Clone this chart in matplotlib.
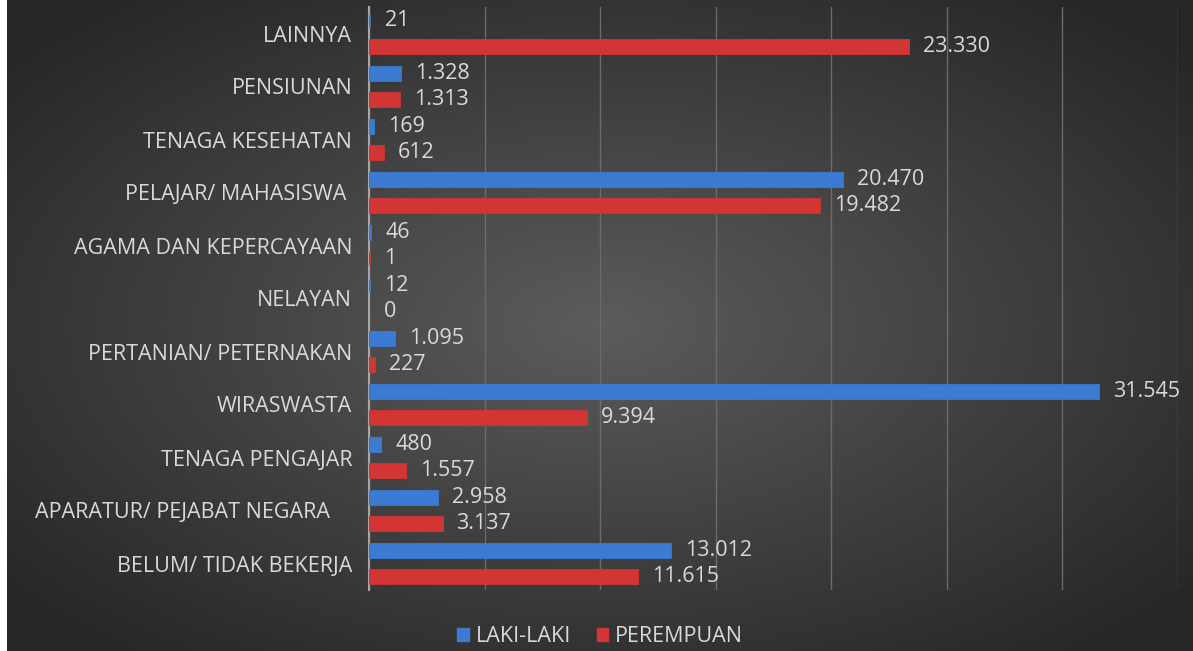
import numpy as np
import matplotlib
matplotlib.use('Agg')
import matplotlib.pyplot as plt
from matplotlib.patches import Patch

# ── data ─────────────────────────────────────────────────────────────────────

categories = ['BELUM/ TIDAK BEKERJA', 'APARATUR/ PEJABAT NEGARA    ',
              'TENAGA PENGAJAR', 'WIRASWASTA', 'PERTANIAN/ PETERNAKAN',
              'NELAYAN', 'AGAMA DAN KEPERCAYAAN', 'PELAJAR/ MAHASISWA ',
              'TENAGA KESEHATAN', 'PENSIUNAN', 'LAINNYA']
laki = [13012, 2958, 480, 31545, 1095, 12, 46, 20470, 169, 1328, 21]
perempuan = [11615, 3137, 1557, 9394, 227, 0, 1, 19482, 612, 1313, 23330]

BLUE = '#3b7bd4'
RED = '#d33535'
TXT = '#d9d9d9'

plt.rcParams['font.family'] = ['Open Sans', 'DejaVu Sans']

W, H = 1193, 651
fig = plt.figure(figsize=(W / 100, H / 100), dpi=100)
fig.patch.set_facecolor('white')

# ── background: radial grey gradient ────────────────────────────────────────
bg = fig.add_axes([7 / W, 0, 1 - 7 / W, 1], zorder=0)
yy, xx = np.mgrid[0:1:300j, 0:1:600j]
r = np.sqrt(((xx - 0.5) / 0.75) ** 2 + ((yy - 0.5) / 0.75) ** 2)
shade = np.clip(0.36 - 0.24 * r, 0.15, 0.36)
bg.imshow(np.dstack([shade] * 3), aspect='auto', extent=[0, 1, 0, 1])
bg.axis('off')

# ── bars ────────────────────────────────────────────────────────────────────
ax = fig.add_axes([369 / W, 1 - 590 / H, (1178 - 369) / W, (590 - 7) / H], zorder=1)
ax.patch.set_alpha(0)

y = np.arange(len(categories))
off, h = 0.245, 0.24
# small edge so tiny non-zero values still show a sliver, as in Excel
ax.barh(y + off, laki, height=h, color=BLUE, edgecolor=BLUE,
        linewidth=[2 if v > 0 else 0 for v in laki], zorder=3)
ax.barh(y - off, perempuan, height=h, color=RED, edgecolor=RED,
        linewidth=[2 if v > 0 else 0 for v in perempuan], zorder=3)

def fmt(v):
    return f'{v:,}'.replace(',', '.')

for yi, v in zip(y, laki):
    ax.text(v + 650, yi + off, fmt(v), va='center', ha='left', color=TXT, fontsize=15.5)
for yi, v in zip(y, perempuan):
    ax.text(v + 650, yi - off, fmt(v), va='center', ha='left', color=TXT, fontsize=15.5)

ax.set_xlim(0, 35000)
ax.set_ylim(-0.5, len(categories) - 0.5)
ax.set_xticks(np.arange(0, 35001, 5000))
ax.set_xticklabels([])
ax.tick_params(axis='x', length=0)
ax.grid(axis='x', color='#6b6b6b', linewidth=1, zorder=0)
ax.set_yticks(y)
ax.set_yticklabels(categories, color=TXT, fontsize=15.5)
ax.tick_params(axis='y', length=0, pad=12)
for s in ['top', 'right', 'bottom']:
    ax.spines[s].set_visible(False)
ax.spines['left'].set_color('#a6a6a6')
ax.spines['left'].set_linewidth(1.5)

handles = [Patch(color=BLUE, label='LAKI-LAKI'), Patch(color=RED, label='PEREMPUAN')]
leg = fig.legend(handles=handles, loc='center', bbox_to_anchor=(600 / W, 1 - 637 / H),
                 ncol=2, frameon=False, fontsize=15.5, handlelength=0.55, handleheight=0.55,
                 handletextpad=0.3, columnspacing=1.2)
for t in leg.get_texts():
    t.set_color(TXT)

fig.savefig('out.png', dpi=100)
